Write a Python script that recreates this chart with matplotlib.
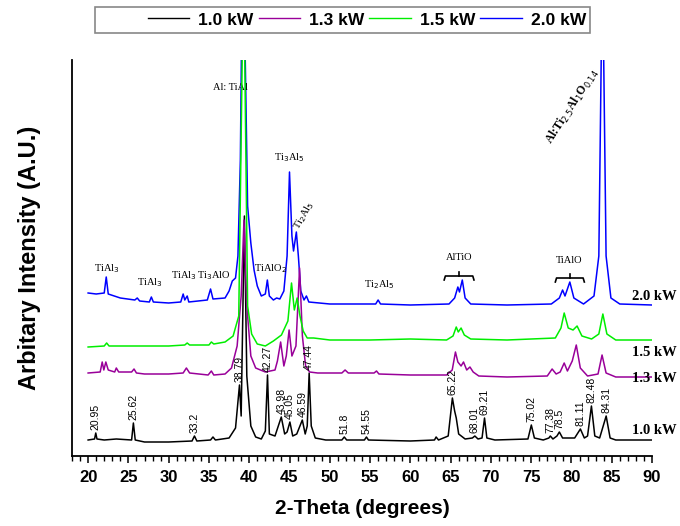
import matplotlib
matplotlib.use("Agg")
import matplotlib.pyplot as plt
from matplotlib.patches import Rectangle
from matplotlib.ticker import MultipleLocator

# ---------------- data (2-theta in degrees, intensity in arbitrary units) ----------------
labels = ["1.0 kW", "1.3 kW", "1.5 kW", "2.0 kW"]
colors = ["#000000", "#990099", "#00ee00", "#0000ff"]

x_10 = [20, 20.8, 20.95, 21.1, 22, 23.5, 25.4, 25.62, 25.85, 27, 30, 32.9, 33.2, 33.5, 35.2, 35.5, 35.8,
        37.5, 38.3, 38.79, 39.0, 39.4, 39.7, 40.2, 40.8, 41.5, 42.0, 42.27, 42.5, 43.2, 43.98, 44.4, 44.7,
        45.05, 45.4, 45.9, 46.59, 46.95, 47.2, 47.44, 47.7, 48.2, 49.5, 51.5, 51.8, 52.1, 54.3, 54.55, 54.8,
        60, 63.0, 63.2, 63.5, 64.7, 65.22, 65.5, 65.7, 66.0, 66.8, 67.7, 68.01, 68.4, 68.9, 69.21, 69.5,
        70.5, 74.6, 75.02, 75.4, 76.5, 77.2, 77.38, 77.7, 78.2, 78.5, 78.9, 80.4, 81.11, 81.6, 82.0, 82.48,
        82.9, 83.5, 84.31, 84.8, 85.5, 90]
y_10 = [16, 17, 23, 17, 16, 17, 16, 33, 16, 14, 14, 15, 20, 15, 16, 19, 16,
        18, 28, 71, 40, 240, 80, 30, 19, 17, 25, 81, 22, 20, 39, 22, 24,
        34, 20, 22, 36, 22, 30, 83, 30, 18, 16, 16, 19, 16, 16, 19, 16,
        15, 16, 19, 16, 20, 58, 45, 38, 22, 17, 18, 20, 17, 18, 38, 18,
        16, 17, 31, 18, 16, 18, 20, 17, 20, 24, 18, 18, 27, 18, 20, 50,
        20, 18, 40, 18, 16, 16]

x_13 = [20, 21.5, 21.75, 21.95, 22.2, 22.5, 23.3, 23.5, 23.8, 25.4, 25.7, 26.0, 27, 30, 31.8, 32.2, 32.6,
        34.9, 35.3, 35.6, 37.0, 37.8, 38.5, 39.0, 39.35, 39.7, 40.2, 40.8, 42, 43.2, 43.5, 43.9, 44.3, 44.6,
        44.95, 45.3, 45.8, 46.25, 46.6, 47.0, 47.5, 48.5, 51.5, 51.9, 52.3, 55.5, 55.8, 56.1, 60, 64.5,
        65.2, 65.6, 65.9, 66.3, 66.6, 67.0, 67.4, 67.8, 68.5, 72, 77.0, 77.6, 78.1, 78.6, 79.1, 79.5, 80.1,
        80.6, 81.1, 82, 83.3, 83.8, 84.3, 85.5, 90]
y_13 = [83, 84, 94, 86, 94, 86, 84, 88, 84, 84, 87, 83, 82, 82, 83, 88, 83,
        81, 85, 81, 82, 88, 110, 160, 236, 150, 100, 88, 84, 86, 95, 114, 90, 100,
        126, 100, 110, 188, 120, 90, 84, 83, 83, 86, 83, 83, 85, 82, 81, 81,
        86, 104, 94, 90, 94, 86, 89, 84, 80, 79, 80, 87, 82, 84, 93, 85, 95,
        111, 88, 80, 82, 101, 83, 79, 79]

x_15 = [20, 22.0, 22.3, 22.6, 25, 30, 32, 32.3, 32.6, 35, 35.3, 35.6, 37, 38.0, 38.7, 39.3, 39.8, 40.3,
        41, 42, 43, 44, 44.8, 45.25, 45.6, 45.95, 46.3, 46.7, 47.2, 48, 50, 55, 60, 64.5, 65.3, 65.7,
        65.95, 66.3, 66.7, 67.5, 72, 78, 78.7, 79.1, 79.6, 80.2, 80.7, 81.3, 82.5, 83.4, 83.9, 84.4,
        85.5, 90]
y_15 = [109, 110, 113, 110, 110, 110, 111, 113, 111, 111, 114, 112, 114, 120, 140, 500, 150, 122,
        112, 110, 115, 121, 135, 173, 146, 158, 140, 125, 118, 118, 116, 116, 117, 116, 120, 129,
        124, 128, 121, 117, 116, 118, 128, 143, 128, 126, 130, 120, 117, 122, 142, 122,
        116, 116]

x_20 = [20, 21, 22.0, 22.25, 22.5, 24, 25.8, 26.1, 26.4, 27.6, 27.85, 28.1, 30, 31.5, 31.8, 32.0, 32.3,
        32.5, 34.8, 35.2, 35.5, 37.0, 37.5, 37.9, 38.3, 38.6, 38.9, 39.15, 39.5, 39.8, 40.2, 40.6, 41.0,
        41.5, 42.0, 42.25, 42.5, 43.0, 43.4, 43.8, 44.3, 44.7, 45.0, 45.3, 45.5, 45.85, 46.1, 46.4, 46.8,
        47.1, 47.4, 50, 55.7, 56.0, 56.3, 60, 64.8, 65.5, 65.9, 66.1, 66.45, 66.8, 67.5, 72, 77.5, 78.5,
        78.9, 79.2, 79.8, 80.3, 81.5, 82.8, 83.4, 83.85, 84.3, 84.9, 86, 90]
y_20 = [163, 162, 163, 179, 162, 158, 156, 158, 155, 154, 159, 154, 153, 154, 162, 156, 160,
        154, 156, 167, 157, 158, 165, 175, 178, 200, 296, 500, 400, 250, 213, 186, 170,
        160, 162, 176, 160, 156, 158, 157, 165, 200, 284, 220, 205, 224, 200, 165, 156,
        160, 154, 152, 152, 156, 152, 151, 152, 158, 169, 164, 176, 158, 152, 151, 152, 158,
        166, 160, 174, 158, 152, 160, 200, 500, 200, 158, 152, 151]

peak_labels_10 = ["20.95", "25.62", "33.2", "38.79", "42.27", "43.98", "45.05", "46.59", "47.44",
                  "51.8", "54.55", "65.22", "68.01", "69.21", "75.02", "77.38", "78.5", "81.11",
                  "82.48", "84.31"]
peak_heights_10 = [23, 33, 20, 71, 81, 39, 34, 36, 83, 19, 19, 58, 20, 38, 31, 20, 24, 27, 50, 40]

# ---------------- figure ----------------
fig = plt.figure(figsize=(6.8, 5.26), dpi=100)
ax = fig.add_axes([72 / 680, 1 - 456 / 526, (652 - 72) / 680, (456 - 60) / 526])

series_x = [x_10, x_13, x_15, x_20]
series_y = [y_10, y_13, y_15, y_20]
zorders = [3, 4, 5, 2]
handles = []
for xs, ys, c, lab, z in zip(series_x, series_y, colors, labels, zorders):
    h, = ax.plot(xs, ys, color=c, lw=1.1, label=lab, zorder=z)
    handles.append(h)

ax.set_xlim(18.0, 90)
ax.set_ylim(0, 396)
ax.spines["top"].set_visible(False)
ax.spines["right"].set_visible(False)
ax.spines["left"].set_linewidth(1.3)
ax.spines["bottom"].set_linewidth(1.3)
ax.set_yticks([])
ax.xaxis.set_major_locator(MultipleLocator(5))
ax.xaxis.set_minor_locator(MultipleLocator(1))
ax.set_xticks(list(range(20, 91, 5)))
ax.tick_params(axis="x", which="major", length=5, width=1.1, direction="out", pad=5)
ax.tick_params(axis="x", which="minor", length=3.5, width=1.0, direction="out")
for t in ax.get_xticklabels():
    t.set_fontfamily("Liberation Sans")
    t.set_fontweight("bold")
    t.set_fontsize(12)

# peak position labels on the 1.0 kW pattern
for lab, h in zip(peak_labels_10, peak_heights_10):
    ax.text(float(lab), h + 3, lab, rotation=90, ha="center", va="bottom", zorder=6,
            fontsize=7.5, family=["Liberation Sans Narrow", "Liberation Sans"])

# phase labels
serif = "Liberation Serif"
ph = dict(fontsize=7.5, family=serif, ha="center", va="bottom")
ax.text(22.3, 181, "TiAl$_3$", **ph)
ax.text(27.7, 167, "TiAl$_3$", **ph)
ax.text(31.9, 174, "TiAl$_3$", **ph)
ax.text(35.6, 174, "Ti$_3$AlO", **ph)
ax.text(37.7, 364, "Al: TiAl", **ph)
ax.text(42.6, 181, "TiAlO$_2$", **ph)
ax.text(45.0, 292, "Ti$_3$Al$_5$", **ph)
ax.text(46.8, 240, "Ti$_2$Al$_5$", fontsize=7.5, family=serif, ha="center", va="center", rotation=60)
ax.text(56.2, 165, "Ti$_2$Al$_5$", **ph)
ax.text(66.1, 194, "AlTiO", **ph)
ax.text(79.7, 191, "TiAlO", **ph)
ax.text(80.1, 350, "Al:Ti$_{2.5}$Al$_1$O$_{0.14}$", fontsize=8.5, family=serif, fontweight="bold",
        ha="center", va="center", rotation=57)

# brackets
def bracket(x0, x1, y):
    xm = (x0 + x1) / 2
    ax.plot([x0, x0 + 0.15, x1 - 0.15, x1], [y - 4, y, y, y - 4], color="black", lw=1.2)
    ax.plot([xm, xm], [y, y + 4], color="black", lw=1.2)

bracket(64.2, 67.9, 180)
bracket(78.0, 81.6, 178)

# series labels at the right
for lab, yv in zip(labels, [26, 78, 103, 159]):
    ax.text(87.5, yv, lab, fontsize=10.5, fontweight="bold", family=serif,
            ha="left", va="center", clip_on=False, zorder=7)

# axis titles
fig.text(30 / 680, 1 - 258 / 526, "Arbitary Intensity (A.U.)", rotation=90, ha="center", va="center",
         fontsize=17, fontweight="bold", family="Liberation Sans")
fig.text(362 / 680, 1 - 508 / 526, "2-Theta (degrees)", ha="center", va="center",
         fontsize=15, fontweight="bold", family="Liberation Sans")

# legend box
fig.patches.append(Rectangle((95 / 680, 1 - 33 / 526), (590 - 95) / 680, 26 / 526,
                             transform=fig.transFigure, fill=False, edgecolor="#888888", lw=1.2))
leg = fig.legend(handles=handles, labels=labels, loc="center right",
                 bbox_to_anchor=(598 / 680, 1 - 20 / 526), ncol=4, frameon=False,
                 prop={"family": "Liberation Sans", "weight": "bold", "size": 12.5},
                 handlelength=2.4, handletextpad=0.5, columnspacing=0.3, borderpad=0.2)
for l in leg.get_lines():
    l.set_linewidth(1.0)

fig.savefig("out.png", dpi=100)
